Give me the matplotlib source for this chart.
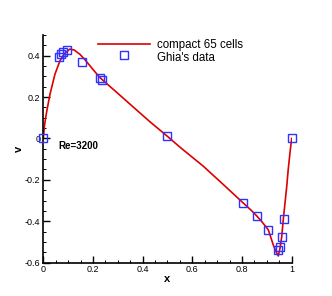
import matplotlib
matplotlib.use("Agg")
import matplotlib.pyplot as plt
from matplotlib.lines import Line2D
from matplotlib.ticker import MultipleLocator

plt.rcParams['font.family'] = ['Liberation Sans', 'DejaVu Sans']

# compact 65 cells solution (v along horizontal centerline)
x_sim = [0.0, 0.005, 0.0137, 0.027, 0.047, 0.067, 0.085, 0.107, 0.125, 0.148, 0.168,
         0.188, 0.208, 0.228, 0.26, 0.3, 0.362, 0.43, 0.5, 0.55, 0.644, 0.725, 0.805,
         0.835, 0.859, 0.879, 0.895, 0.906, 0.926, 0.938, 0.946, 0.953, 0.96, 0.966,
         0.98, 0.986, 0.993, 1.0]
v_sim = [0.0, 0.065, 0.13, 0.214, 0.311, 0.375, 0.41, 0.432, 0.427, 0.406, 0.38,
         0.351, 0.322, 0.294, 0.26, 0.218, 0.152, 0.08, 0.01, -0.042, -0.134, -0.223, -0.312,
         -0.345, -0.374, -0.401, -0.425, -0.442, -0.515, -0.55, -0.568, -0.53, -0.474, -0.393,
         -0.232, -0.15, -0.07, 0.0]

# Ghia's data, Re=3200
x_ghia = [0.0, 0.0625, 0.0703, 0.0781, 0.0938, 0.1563, 0.2266, 0.2344, 0.325, 0.5,
          0.8047, 0.8594, 0.9063, 0.9453, 0.9531, 0.9609, 0.9688, 1.0]
v_ghia = [0.0, 0.3956, 0.4092, 0.4191, 0.4277, 0.3712, 0.2903, 0.2819, 0.403, 0.0100,
          -0.3118, -0.3740, -0.4431, -0.5405, -0.5236, -0.4743, -0.3902, 0.0]

fig = plt.figure(figsize=(3.32, 2.96), dpi=100)
ax = fig.add_axes([0.1304, 0.1128, 0.7482, 0.769])

line, = ax.plot(x_sim, v_sim, color='#dd0000', lw=1.2, zorder=2)
ax.plot(x_ghia, v_ghia, linestyle='none', marker='s', markersize=5.5,
        markerfacecolor='none', markeredgecolor='#3030ff', markeredgewidth=1.0, zorder=3,
        clip_on=False)

ax.set_xlim(0, 1)
ax.set_ylim(-0.6, 0.5)
ax.spines['top'].set_visible(False)
ax.spines['right'].set_visible(False)
ax.xaxis.set_minor_locator(MultipleLocator(0.05))
ax.yaxis.set_minor_locator(MultipleLocator(0.05))
ax.set_yticks([-0.6, -0.4, -0.2, 0, 0.2, 0.4])
ax.set_yticklabels(['-0.6', '-0.4', '-0.2', '0', '0.2', '0.4'])
ax.set_xticks([0, 0.2, 0.4, 0.6, 0.8, 1.0])
ax.set_xticklabels(['0', '0.2', '0.4', '0.6', '0.8', '1'])
ax.tick_params(which='major', direction='in', length=5, width=1.0, labelsize=6.5, pad=2)
ax.tick_params(which='minor', direction='in', length=2.5, width=0.7)
for s in ['left', 'bottom']:
    ax.spines[s].set_linewidth(1.2)

ax.set_xlabel('x', fontsize=8, fontweight='bold', labelpad=0)
ax.set_ylabel('v', fontsize=8, fontweight='bold', labelpad=1)

ax.text(0.06, -0.013, 'Re=3200', fontsize=7, fontweight='bold', va='top', ha='left')

blank = Line2D([], [], linestyle='none')
ax.legend([line, blank], ['compact 65 cells', "Ghia's data"], loc='upper left',
          bbox_to_anchor=(0.27, 0.897), bbox_transform=fig.transFigure,
          frameon=False, fontsize=8.3, handlelength=4.5, handletextpad=0.6,
          labelspacing=0.1, borderpad=0.2)

fig.savefig('out.png', dpi=100)
